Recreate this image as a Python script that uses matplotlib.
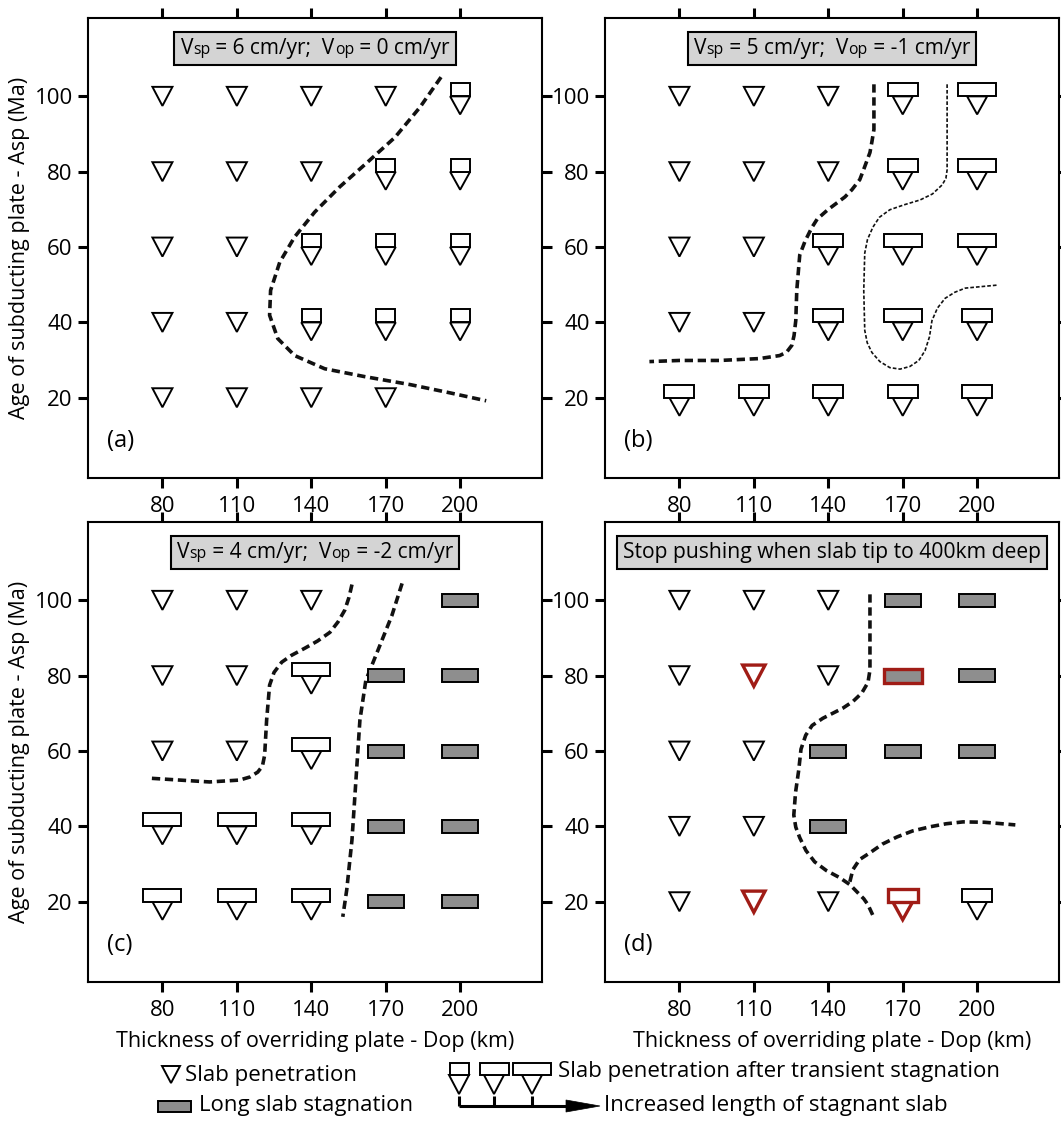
import matplotlib
matplotlib.use("Agg")
import matplotlib.pyplot as plt
from matplotlib.patches import Polygon
from matplotlib.transforms import ScaledTranslation
from matplotlib.offsetbox import TextArea, HPacker, AnnotationBbox

plt.rcParams['font.family'] = ['Open Sans', 'DejaVu Sans']

# ---------------- data ----------------
DOP = [80, 110, 140, 170, 200]          # thickness of overriding plate (km)
ASP = [100, 80, 60, 40, 20]             # age of subducting plate (Ma)

# T = slab penetration; S/M/L = penetration after transient stagnation
# (small/medium/large stagnant slab); G = long slab stagnation; r = red highlight
grid_a = [["T", "T", "T", "T", "S"],
          ["T", "T", "T", "S", "S"],
          ["T", "T", "S", "S", "S"],
          ["T", "T", "S", "S", "S"],
          ["T", "T", "T", "T", ""]]
grid_b = [["T", "T", "T", "M", "L"],
          ["T", "T", "T", "M", "L"],
          ["T", "T", "M", "L", "L"],
          ["T", "T", "M", "L", "M"],
          ["M", "M", "M", "M", "M"]]
grid_c = [["T", "T", "T", "", "G"],
          ["T", "T", "L", "G", "G"],
          ["T", "T", "L", "G", "G"],
          ["L", "L", "L", "G", "G"],
          ["L", "L", "L", "G", "G"]]
grid_d = [["T", "T", "T", "G", "G"],
          ["T", "Tr", "T", "Gr", "G"],
          ["T", "T", "G", "G", "G"],
          ["T", "T", "G", "", ""],
          ["T", "Tr", "T", "Mr", "M"]]

# boundary curves (x = Dop, y = Asp)
curve_a_x = [192.3, 183.8, 173.7, 161.6, 151.5, 141.4, 133.3, 127.3, 123.6, 123.2, 126.5, 133.3, 145.4, 161.6, 179.8, 195.9, 210.5]
curve_a_y = [105.1, 97.1, 89.1, 81.9, 76.0, 69.3, 62.7, 56.0, 48.5, 41.9, 35.7, 31.2, 27.7, 25.6, 23.5, 21.3, 19.2]

curve_b1_x = [158.4, 158.4, 157.6, 156.8, 154.5, 152.7, 149.5, 146.7, 139.8, 135.5, 133.3, 130.6, 128.5, 127.3, 126.9, 126.2, 125.3, 123.2, 120.4, 112.3, 96.2, 80.0, 67.9]
curve_b1_y = [103.2, 91.2, 88.0, 85.1, 81.0, 77.9, 75.2, 73.3, 69.9, 67.4, 65.1, 61.5, 57.9, 48.5, 40.5, 36.5, 33.9, 32.1, 31.2, 30.4, 29.9, 29.9, 29.6]

curve_b2_x = [187.9, 187.9, 187.4, 185.9, 182.0, 177.0, 170.5, 164.8, 160.6, 158.0, 155.8, 154.7, 154.3, 154.7, 155.7, 157.6, 160.8, 164.8, 168.9, 172.9, 176.5, 179.0, 180.8, 181.8, 184.0, 187.1, 191.0, 195.2, 208.1]
curve_b2_y = [103.2, 80.5, 78.2, 76.5, 74.1, 72.5, 71.2, 69.9, 67.9, 65.3, 62.0, 58.4, 48.5, 37.9, 34.6, 32.0, 29.6, 28.0, 27.6, 28.3, 29.9, 32.5, 36.2, 40.5, 43.8, 46.4, 48.0, 49.1, 49.9]

curve_c1_x = [156.4, 155.2, 153.5, 150.8, 147.5, 142.5, 137.4, 132.0, 128.1, 125.0, 123.2, 122.0, 121.2, 120.3, 118.4, 115.2, 111.1, 99.0, 86.9, 74.7]
curve_c1_y = [104.2, 100.8, 97.4, 94.3, 91.5, 89.2, 87.3, 85.4, 83.6, 80.9, 77.5, 68.2, 58.9, 56.0, 54.4, 53.1, 52.3, 51.8, 52.3, 52.8]

curve_c2_x = [176.6, 172.5, 166.9, 162.0, 159.6, 158.0, 156.4, 154.3, 152.7]
curve_c2_y = [104.5, 96.0, 86.8, 78.8, 68.2, 52.3, 36.4, 23.2, 16.0]

curve_d1_x = [156.8, 156.8, 156.0, 153.5, 150.0, 145.9, 137.8, 133.5, 130.9, 129.0, 128.1, 126.8, 126.1, 126.9, 128.5, 131.0, 134.5, 139.2, 144.6, 148.8, 151.9, 154.3, 156.0, 158.4]
curve_d1_y = [101.6, 81.5, 78.2, 75.4, 73.2, 71.4, 68.7, 66.8, 64.2, 60.5, 55.0, 49.0, 43.0, 39.8, 37.0, 33.6, 30.6, 28.3, 26.4, 24.5, 22.4, 20.8, 19.2, 15.8]

curve_d2_x = [148.7, 149.9, 152.6, 156.8, 161.8, 167.7, 174.0, 181.0, 187.5, 194.3, 203.0, 215.4]
curve_d2_y = [25.3, 28.5, 31.2, 33.0, 35.3, 37.2, 38.8, 39.9, 40.7, 41.2, 41.1, 40.4]

titles = [("Vsp = 6 cm/yr;  Vop = 0 cm/yr", "6", "0"),
          ("Vsp = 5 cm/yr;  Vop = -1 cm/yr", "5", "-1"),
          ("Vsp = 4 cm/yr;  Vop = -2 cm/yr", "4", "-2"),
          ("Stop pushing when slab tip to 400km deep", None, None)]
panel_labels = ["(a)", "(b)", "(c)", "(d)"]
xlabel = "Thickness of overriding plate - Dop (km)"
ylabel = "Age of subducting plate - Asp (Ma)"

# ---------------- style ----------------
DPI = 100
RED = "#a01c16"
GRAY_FILL = "#8e8e8e"
BOX_FILL = "#d4d4d4"
WIDTH = {"S": 19, "M": 30, "L": 38}
LEG_FONT = ["Open Sans", "DejaVu Sans"]
LEG_FS = 16

fig = plt.figure(figsize=(1061 / DPI, 1123 / DPI), dpi=DPI)

W, H = 1061.0, 1123.0
positions = [(88, 18), (605, 18), (88, 522), (605, 522)]
AW, AH = 454, 460


def add_poly(ax, x, y, verts_px, fc, ec, lw, z=5):
    tr = fig.dpi_scale_trans + ScaledTranslation(x, y, ax.transData)
    verts = [(vx / DPI, vy / DPI) for vx, vy in verts_px]
    ax.add_patch(Polygon(verts, closed=True, transform=tr, fc=fc, ec=ec,
                         lw=lw, zorder=z, clip_on=False, joinstyle='miter'))


def rect_px(w, y0, y1):
    return [(-w / 2, y0), (w / 2, y0), (w / 2, y1), (-w / 2, y1)]


def draw_symbol(ax, x, y, code):
    if not code:
        return
    red = code.endswith("r")
    kind = code[0]
    ec = RED if red else "black"
    lw = 2.4 if red else 1.4
    if kind == "T":
        s = 1.12 if red else 1.0
        add_poly(ax, x, y, [(-10 * s, 9.5 * s), (10 * s, 9.5 * s), (0, -9.5 * s)], "white", ec, lw)
    elif kind in WIDTH:
        add_poly(ax, x, y, [(-10, 0), (10, 0), (0, -18)], "white", ec, lw)
        add_poly(ax, x, y, rect_px(WIDTH[kind], 0, 13), "white", ec, lw)
    elif kind == "G":
        if red:
            add_poly(ax, x, y, rect_px(38, -7, 7), GRAY_FILL, ec, lw)
        else:
            add_poly(ax, x, y, rect_px(36, -6.5, 6.5), GRAY_FILL, ec, 1.4)


def dashed(ax, xs, ys, thin=False):
    if thin:
        ax.plot(xs, ys, color="#111111", lw=1.2, dashes=(2.2, 1.2), zorder=3,
                dash_capstyle='butt', dash_joinstyle='round')
    else:
        ax.plot(xs, ys, color="#111111", lw=2.6, dashes=(2.3, 1.3), zorder=3,
                dash_capstyle='butt', dash_joinstyle='round')


def title_box(ax, spec):
    text, v1, v2 = spec
    fs, sfs = 15, 11.3
    if v1 is None:
        areas = [TextArea(text, textprops=dict(fontsize=15.2))]
    else:
        rest1 = " = %s cm/yr;  V" % v1
        rest2 = " = %s cm/yr" % v2
        areas = [TextArea("V", textprops=dict(fontsize=fs)),
                 TextArea("sp", textprops=dict(fontsize=sfs)),
                 TextArea(rest1, textprops=dict(fontsize=fs)),
                 TextArea("op", textprops=dict(fontsize=sfs)),
                 TextArea(rest2, textprops=dict(fontsize=fs))]
    pack = HPacker(children=areas, align="baseline", pad=0, sep=0)
    ab = AnnotationBbox(pack, (0.5, 0.934), xycoords="axes fraction",
                        box_alignment=(0.5, 0.5), frameon=True, pad=0.45,
                        bboxprops=dict(facecolor=BOX_FILL, edgecolor="black",
                                       linewidth=1.5),
                        zorder=6)
    ax.add_artist(ab)


grids = [grid_a, grid_b, grid_c, grid_d]
curves = [
    [(curve_a_x, curve_a_y, False)],
    [(curve_b1_x, curve_b1_y, False), (curve_b2_x, curve_b2_y, True)],
    [(curve_c1_x, curve_c1_y, False), (curve_c2_x, curve_c2_y, False)],
    [(curve_d1_x, curve_d1_y, False), (curve_d2_x, curve_d2_y, False)],
]

for i, (px, py) in enumerate(positions):
    ax = fig.add_axes([px / W, 1 - (py + AH) / H, AW / W, AH / H])
    ax.set_xlim(50, 233)
    ax.set_ylim(-1.3, 120.8)
    ax.set_xticks(DOP)
    ax.set_yticks(ASP)
    ax.tick_params(direction="out", length=7, width=2.2, top=True, right=True,
                   labeltop=False, labelright=False, labelsize=16, pad=4)
    ax.tick_params(axis="x", pad=6)
    for sp in ax.spines.values():
        sp.set_linewidth(1.5)
    for xs, ys, thin in curves[i]:
        dashed(ax, xs, ys, thin)
    for r, a in enumerate(ASP):
        for c, d in enumerate(DOP):
            draw_symbol(ax, d, a, grids[i][r][c])
    title_box(ax, titles[i])
    ax.text(0.042, 0.08, panel_labels[i], transform=ax.transAxes,
            fontsize=17, va="center", ha="left")
    if i in (0, 2):
        ax.set_ylabel(ylabel, fontsize=15.5, labelpad=3)
    if i in (2, 3):
        ax.set_xlabel(xlabel, fontsize=15.5, labelpad=7)

# ---------------- legend (figure pixel space) ----------------
lax = fig.add_axes([0, 0, 1, 1], zorder=-1)
lax.set_xlim(0, W)
lax.set_ylim(H, 0)
lax.axis("off")


def lpoly(verts, fc="white", ec="black", lw=1.4):
    lax.add_patch(Polygon(verts, closed=True, fc=fc, ec=ec, lw=lw, joinstyle='miter'))


# slab penetration
lpoly([(162, 1066), (180, 1066), (171, 1083)])
lax.text(185, 1075, "Slab penetration", fontsize=LEG_FS, family=LEG_FONT, va="center")
# long slab stagnation
lpoly([(158, 1101), (191, 1101), (191, 1112), (158, 1112)], fc=GRAY_FILL)
lax.text(199, 1105, "Long slab stagnation", fontsize=LEG_FS, family=LEG_FONT, va="center")
# transient symbols
for cx, w in [(459, 19), (494, 29), (532, 38)]:
    lpoly([(cx - 10, 1075), (cx + 10, 1075), (cx, 1094)])
    lpoly([(cx - w / 2, 1063), (cx + w / 2, 1063), (cx + w / 2, 1075), (cx - w / 2, 1075)])
lax.text(558, 1071, "Slab penetration after transient stagnation", fontsize=LEG_FS,
         family=LEG_FONT, va="center")
# arrow
lax.plot([459, 570], [1106, 1106], color="black", lw=2.2, solid_capstyle="butt")
for cx in (459, 494, 532):
    lax.plot([cx, cx], [1096, 1106], color="black", lw=2.2, solid_capstyle="butt")
lpoly([(566, 1100), (600, 1106), (566, 1112)], fc="black", lw=0.5)
lax.text(604, 1106, "Increased length of stagnant slab", fontsize=LEG_FS,
         family=LEG_FONT, va="center")

fig.savefig("out.png", dpi=DPI)
